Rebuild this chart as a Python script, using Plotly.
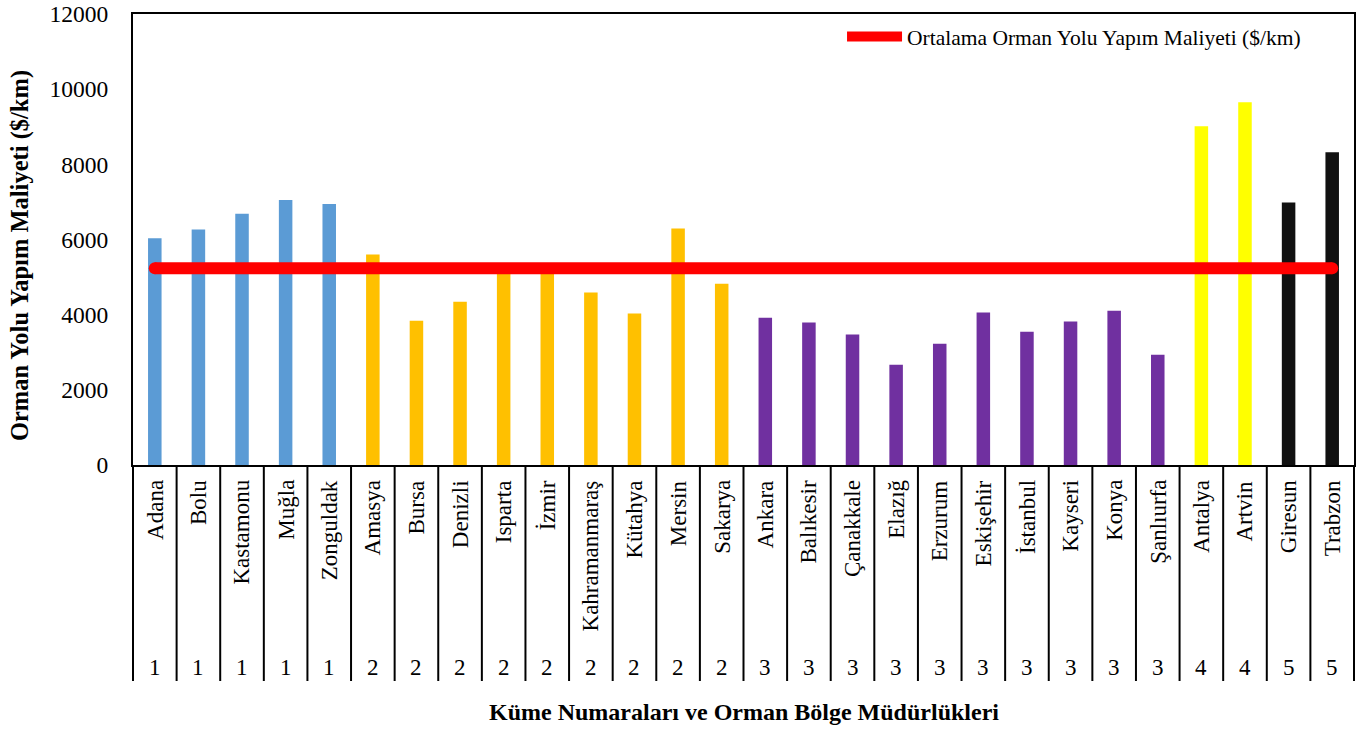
import plotly.graph_objects as go

# Orman bölge müdürlükleri, küme numaraları ve yol yapım maliyetleri ($/km)
regions = ["Adana", "Bolu", "Kastamonu", "Muğla", "Zonguldak",
           "Amasya", "Bursa", "Denizli", "Isparta", "İzmir", "Kahramanmaraş",
           "Kütahya", "Mersin", "Sakarya",
           "Ankara", "Balıkesir", "Çanakkale", "Elazığ", "Erzurum", "Eskişehir",
           "İstanbul", "Kayseri", "Konya", "Şanlıurfa",
           "Antalya", "Artvin", "Giresun", "Trabzon"]
clusters = [1, 1, 1, 1, 1,
            2, 2, 2, 2, 2, 2, 2, 2, 2,
            3, 3, 3, 3, 3, 3, 3, 3, 3, 3,
            4, 4, 5, 5]
costs = [6035, 6265, 6685, 7050, 6945,
         5600, 3840, 4345, 5180, 5220, 4590, 4030, 6290, 4825,
         3920, 3790, 3470, 2665, 3225, 4055, 3545, 3815, 4105, 2935,
         9015, 9650, 6985, 8320]
mean_cost = 5235

cluster_colors = {1: "#5B9BD5", 2: "#FFC000", 3: "#7030A0", 4: "#FFFF00", 5: "#111111"}

FONT = "Times New Roman, Liberation Serif, serif"

fig = go.Figure()

fig.add_trace(go.Bar(
    x=regions, y=costs,
    marker=dict(color=[cluster_colors[c] for c in clusters], line=dict(width=0)),
    width=0.31, showlegend=False, hoverinfo="x+y",
))

fig.add_trace(go.Scatter(
    x=regions, y=[mean_cost] * len(regions),
    mode="lines",
    line=dict(color="#FF0000", width=12),
    name="Ortalama Orman Yolu Yapım Maliyeti ($/km)",
))

# rounded ends of the average line
fig.add_trace(go.Scatter(
    x=[regions[0], regions[-1]], y=[mean_cost, mean_cost],
    mode="markers", marker=dict(color="#FF0000", size=12),
    showlegend=False, hoverinfo="skip",
))

# Lower category table: region names, cluster numbers and column separators
annotations = []
shapes = []
for name, c in zip(regions, clusters):
    annotations.append(dict(x=name, y=-0.029, xref="x", yref="paper", text=name,
                            textangle=-90, xanchor="center", yanchor="top",
                            showarrow=False, font=dict(family=FONT, size=23, color="black")))
    annotations.append(dict(x=name, y=-0.450, xref="x", yref="paper", text=str(c),
                            xanchor="center", yanchor="middle",
                            showarrow=False, font=dict(family=FONT, size=23, color="black")))

for i in range(len(regions) - 1):
    shapes.append(dict(type="line", xref="x", yref="paper", x0=i + 0.5, x1=i + 0.5,
                       y0=0, y1=-0.479, line=dict(color="black", width=2)))
for xd in (0, 1):
    shapes.append(dict(type="line", xref="x domain", yref="paper", x0=xd, x1=xd,
                       y0=0, y1=-0.479, line=dict(color="black", width=2)))

annotations.append(dict(x=0.5, y=-0.548, xref="paper", yref="paper",
                        text="<b>Küme Numaraları ve Orman Bölge Müdürlükleri</b>",
                        showarrow=False, xanchor="center", yanchor="middle",
                        font=dict(family=FONT, size=24, color="black")))
annotations.append(dict(x=-0.0925, y=0.4634, xref="paper", yref="paper",
                        text="<b>Orman Yolu Yapım Maliyeti ($/km)</b>", textangle=-90,
                        showarrow=False, xanchor="center", yanchor="middle",
                        font=dict(family=FONT, size=24.5, color="black")))

fig.update_layout(
    width=1362, height=729,
    margin=dict(l=133, r=8, t=14, b=264),
    paper_bgcolor="white", plot_bgcolor="white",
    font=dict(family=FONT, size=23, color="black"),
    xaxis=dict(type="category", range=[-0.5, len(regions) - 0.5], showticklabels=False,
               showgrid=False, zeroline=False, showline=True, mirror=True,
               linecolor="black", linewidth=2, ticks="", automargin=False),
    yaxis=dict(range=[0, 12000], dtick=2000, tickformat="d", showgrid=False,
               zeroline=False, showline=True, mirror=True, linecolor="black",
               linewidth=2, ticks="", ticklabelstandoff=18, automargin=False,
               tickfont=dict(family=FONT, size=23.5, color="black")),
    legend=dict(x=0.5807, y=0.950, xanchor="left", yanchor="middle",
                bgcolor="rgba(0,0,0,0)", font=dict(family=FONT, size=21.5, color="black"),
                itemwidth=55),
    annotations=annotations,
    shapes=shapes,
)

fig.write_html("out.html")
